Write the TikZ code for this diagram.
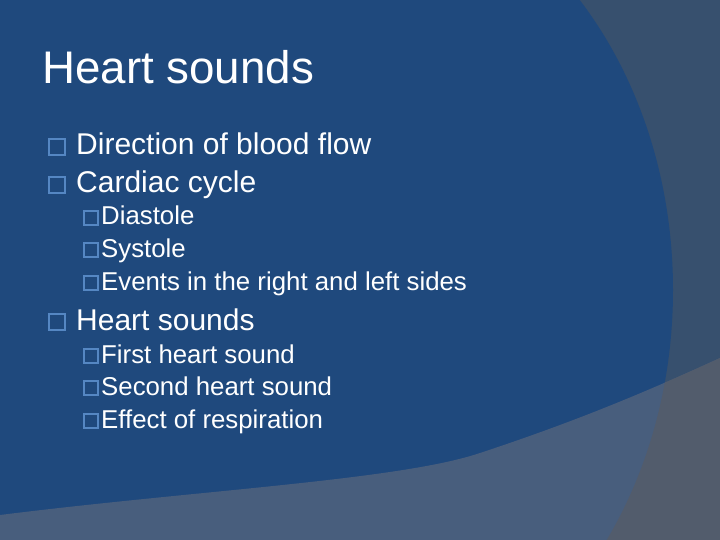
\documentclass[tikz,border=0pt]{standalone}
\usepackage{fontspec}
\setmainfont{Liberation Sans}
\definecolor{bgblue}{RGB}{31,73,125}
\definecolor{bggray}{RGB}{55,80,110}
\definecolor{bandblue}{RGB}{72,94,125}
\definecolor{bandgray}{RGB}{82,92,108}
\definecolor{boxc}{RGB}{85,135,195}
\begin{document}
\begin{tikzpicture}[x=1pt,y=-1pt,
  lone/.style={anchor=base west,text=white,font=\fontsize{30}{30}\selectfont,inner sep=0},
  ltwo/.style={anchor=base west,text=white,font=\fontsize{25.8}{25.8}\selectfont,inner sep=0},
  bone/.style={draw=boxc,line width=1.4pt,minimum size=16pt,inner sep=0},
  btwo/.style={draw=boxc,line width=1.2pt,minimum size=14pt,inner sep=0}]
\useasboundingbox (0,0) rectangle (720,540);
\fill[bggray] (0,0) rectangle (720,540);
\begin{scope}
\clip (0,0) rectangle (720,540);
\fill[bgblue] (330,290) ellipse [x radius=343, y radius=423];
\fill[bgblue] (0,0) rectangle (330,540);
\def\bandpath{(0,515) .. controls (200,490) and (400,480) .. (480,453) .. controls (580,420) and (650,390) .. (720,358) -- (720,540) -- (0,540) -- cycle}
\fill[bandblue] \bandpath;
\begin{scope}
\clip \bandpath;
\clip (330,0) rectangle (720,540);
\fill[bandgray,even odd rule] (0,0) rectangle (720,540) (330,290) ellipse [x radius=343, y radius=423];
\end{scope}
\end{scope}
\node[anchor=base west,text=white,font=\fontsize{45.7}{45.7}\selectfont,inner sep=0] (title) at (42,84) {Heart sounds};
\node[bone] (b1) at (57,147) {}; \node[lone] (t1) at (76,155) {Direction of blood flow};
\node[bone] (b2) at (57,185) {}; \node[lone] (t2) at (76,193) {Cardiac cycle};
\node[btwo] (b3) at (91,218) {}; \node[ltwo] (t3) at (101,225) {Diastole};
\node[btwo] (b4) at (91,250) {}; \node[ltwo] (t4) at (101,257) {Systole};
\node[btwo] (b5) at (91,283) {}; \node[ltwo] (t5) at (101,290) {Events in the right and left sides};
\node[bone] (b6) at (57,322) {}; \node[lone] (t6) at (76,330) {Heart sounds};
\node[btwo] (b7) at (91,356) {}; \node[ltwo] (t7) at (101,363) {First heart sound};
\node[btwo] (b8) at (91,388) {}; \node[ltwo] (t8) at (101,395) {Second heart sound};
\node[btwo] (b9) at (91,421) {}; \node[ltwo] (t9) at (101,428) {Effect of respiration};
\end{tikzpicture}
\end{document}
